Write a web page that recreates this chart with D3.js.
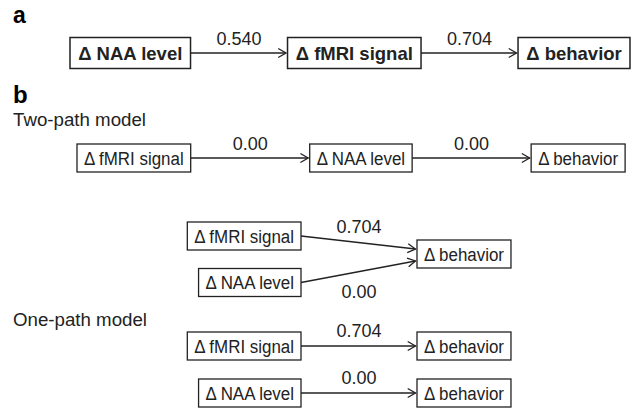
<!DOCTYPE html>
<html>
<head>
<meta charset="utf-8">
<script src="https://cdn.jsdelivr.net/npm/d3@7"></script>
<style>
  body { margin: 0; background: #fff; }
  svg { display: block; font-family: "Liberation Sans", Arial, Helvetica, sans-serif; }
</style>
</head>
<body>
<div id="chart"></div>
<script>
// path model (a) and the alternative models (b)
const panelANodes = ["Δ NAA level", "Δ fMRI signal", "Δ behavior"];
const panelALabels = ["0.540", "0.704"];

const twoPathNodes = ["Δ fMRI signal", "Δ NAA level", "Δ behavior"];
const twoPathLabels = ["0.00", "0.00"];

const jointSources = ["Δ fMRI signal", "Δ NAA level"];
const jointTarget = "Δ behavior";
const jointLabels = ["0.704", "0.00"];

const onePathSources = ["Δ fMRI signal", "Δ NAA level"];
const onePathTarget = "Δ behavior";
const onePathLabels = ["0.704", "0.00"];

const width = 633, height = 409;
const ink = "#222";

const svg = d3.select("#chart")
  .append("svg")
  .attr("width", width)
  .attr("height", height);

// a box whose width follows its text
function makeBox(label, cy, bold) {
  const fs = bold ? 18.5 : 18;
  const g = svg.append("g");
  const t = g.append("text")
    .attr("font-size", fs)
    .attr("font-weight", bold ? "bold" : "normal")
    .attr("text-anchor", "middle")
    .attr("fill", ink)
    .text(label);
  let tw = t.node().getComputedTextLength();
  if (!bold) {
    // the figure uses a narrower face for the plain boxes
    tw = tw * 0.94;
    t.attr("textLength", tw).attr("lengthAdjust", "spacingAndGlyphs");
  }
  const pad = bold ? 8.2 : 7;
  return { g: g, t: t, w: tw + pad * 2, h: bold ? 31 : 28, cy: cy, fs: fs, bold: bold };
}

function placeBox(b, x0) {
  b.x0 = x0;
  b.x1 = x0 + b.w;
  b.g.insert("rect", "text")
    .attr("x", x0)
    .attr("y", b.cy - b.h / 2)
    .attr("width", b.w)
    .attr("height", b.h)
    .attr("fill", "none")
    .attr("stroke", ink)
    .attr("stroke-width", b.bold ? 1.5 : 1.3);
  b.t.attr("x", x0 + b.w / 2).attr("y", b.cy + b.fs * 0.38);
  return b;
}

function arrow(x1, y1, x2, y2) {
  svg.append("line")
    .attr("x1", x1).attr("y1", y1)
    .attr("x2", x2).attr("y2", y2)
    .attr("stroke", ink).attr("stroke-width", 1.3);
  const ang = Math.atan2(y2 - y1, x2 - x1);
  const len = 9, spread = 0.52;
  const pts = [
    [x2 - len * Math.cos(ang - spread), y2 - len * Math.sin(ang - spread)],
    [x2, y2],
    [x2 - len * Math.cos(ang + spread), y2 - len * Math.sin(ang + spread)]
  ];
  svg.append("path")
    .attr("d", d3.line()(pts))
    .attr("fill", "none")
    .attr("stroke", ink)
    .attr("stroke-width", 1.3);
}

function coef(text, x, y) {
  svg.append("text")
    .attr("x", x).attr("y", y)
    .attr("text-anchor", "middle")
    .attr("font-size", 18)
    .attr("fill", ink)
    .text(text);
}

function heading(text, y, fs, bold) {
  svg.append("text")
    .attr("x", 13).attr("y", y)
    .attr("font-size", fs)
    .attr("font-weight", bold ? "bold" : "normal")
    .attr("fill", bold ? "#000" : ink)
    .text(text);
}

// a chain of boxes with arrows between them
function chain(nodes, labels, x0, cy, gap, bold) {
  let x = x0;
  const boxes = nodes.map(function(n) {
    const b = placeBox(makeBox(n, cy, bold), x);
    x = b.x1 + gap;
    return b;
  });
  for (let i = 0; i < boxes.length - 1; i++) {
    const a = boxes[i], b = boxes[i + 1];
    arrow(a.x1, cy, b.x0 - 1.5, cy);
    coef(labels[i], (a.x1 + b.x0) / 2, cy - 8);
  }
}

const srcRight = 301, tgtLeft = 417;

heading("a", 23, 23, true);
chain(panelANodes, panelALabels, 70, 53, 97, true);

heading("b", 103, 24, true);
heading("Two-path model", 126, 18.7, false);
chain(twoPathNodes, twoPathLabels, 77, 158, 119, false);

// both predictors into behavior
const jy = [236, 282.5];
const jt = placeBox(makeBox(jointTarget, 254, false), tgtLeft);
jointSources.forEach(function(s, i) {
  const b = makeBox(s, jy[i], false);
  placeBox(b, srcRight - b.w);
  const ty = i === 0 ? 249 : 261;
  arrow(srcRight, jy[i], tgtLeft - 1.5, ty);
  const mx = (srcRight + tgtLeft) / 2, my = (jy[i] + ty) / 2;
  coef(jointLabels[i], mx, i === 0 ? my - 10 : my + 26);
});

heading("One-path model", 326, 18.7, false);
const oy = [346, 393];
onePathSources.forEach(function(s, i) {
  const b = makeBox(s, oy[i], false);
  placeBox(b, srcRight - b.w);
  placeBox(makeBox(onePathTarget, oy[i], false), tgtLeft);
  arrow(srcRight, oy[i], tgtLeft - 1.5, oy[i]);
  coef(onePathLabels[i], (srcRight + tgtLeft) / 2, oy[i] - 9);
});
</script>
</body>
</html>
